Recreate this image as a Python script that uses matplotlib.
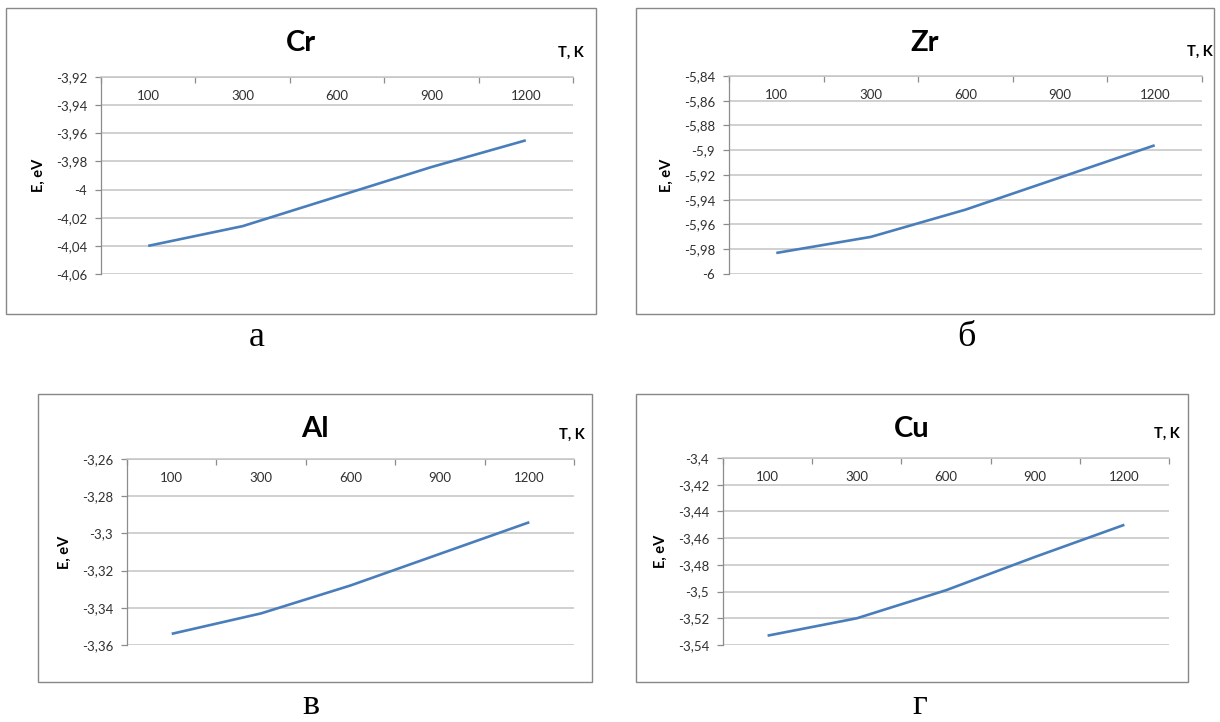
import matplotlib
matplotlib.use('Agg')
import matplotlib.pyplot as plt
from matplotlib.patches import Rectangle

# temperature categories, K
temps = ['100', '300', '600', '900', '1200']

# energies, eV
energy_cr = [-4.040, -4.026, -4.005, -3.984, -3.965]
energy_zr = [-5.983, -5.970, -5.948, -5.922, -5.896]
energy_al = [-3.354, -3.343, -3.328, -3.311, -3.294]
energy_cu = [-3.533, -3.520, -3.499, -3.474, -3.450]

yticks_cr = [-4.06, -4.04, -4.02, -4.00, -3.98, -3.96, -3.94, -3.92]
yticks_zr = [-6.00, -5.98, -5.96, -5.94, -5.92, -5.90, -5.88, -5.86, -5.84]
yticks_al = [-3.36, -3.34, -3.32, -3.30, -3.28, -3.26]
yticks_cu = [-3.54, -3.52, -3.50, -3.48, -3.46, -3.44, -3.42, -3.40]

titles = ['Cr', 'Zr', 'Al', 'Cu']
captions = ['а', 'б', 'в', 'г']

W, H = 1220, 722
LINE = '#4a7ebb'
GRID = '#c4c4c4'
AXIS = '#8c8c8c'
TXT = '#303030'

# (frame box, plot area, caption position), all in pixels from top-left
layout = [
    ((6, 8, 596, 314), (101, 77, 573, 274), (257, 338)),
    ((636, 8, 1214, 314), (729, 76, 1202, 274), (966, 338)),
    ((38, 394, 592, 682), (127, 459, 574, 645), (311, 706)),
    ((636, 394, 1188, 682), (723, 458, 1169, 645), (920, 706)),
]

series = [energy_cr, energy_zr, energy_al, energy_cu]
yticks = [yticks_cr, yticks_zr, yticks_al, yticks_cu]

plt.rcParams['font.family'] = ['Lato', 'DejaVu Sans']

fig = plt.figure(figsize=(W / 100, H / 100), dpi=100)
fig.patch.set_facecolor('white')


def fx(px):
    return px / W


def fy(py):
    return 1 - py / H


def fmt(v):
    return ('%g' % round(v, 2)).replace('.', ',')


for (box, area, cap), title, vals, ticks, letter in zip(layout, titles, series, yticks, captions):
    bx0, by0, bx1, by1 = box
    fig.patches.append(Rectangle((fx(bx0), fy(by1)), fx(bx1 - bx0), (by1 - by0) / H,
                                 transform=fig.transFigure, fill=False,
                                 edgecolor='#888888', linewidth=1.0, zorder=0))

    x0, y0, x1, y1 = area
    ax = fig.add_axes([fx(x0), fy(y1), fx(x1 - x0), (y1 - y0) / H])
    ax.set_facecolor('none')

    xs = list(range(len(temps)))
    ax.plot(xs, vals, color=LINE, linewidth=1.9, solid_capstyle='butt', zorder=3)

    ax.set_xlim(-0.5, len(temps) - 0.5)
    ax.set_ylim(ticks[0], ticks[-1])

    # category axis sits on top, labels hang below it
    ax.xaxis.tick_top()
    ax.set_xticks([i - 0.5 for i in range(len(temps) + 1)])
    ax.set_xticklabels([])
    ax.set_xticks(xs, minor=True)
    ax.set_xticklabels(temps, minor=True)
    ax.tick_params(axis='x', which='major', direction='in', length=4, width=0.9,
                   color=AXIS, top=True, bottom=False)
    ax.tick_params(axis='x', which='minor', length=0, top=True, bottom=False,
                   labeltop=True, labelbottom=False, pad=-18, labelsize=9.5, labelcolor=TXT)

    ax.set_yticks(ticks)
    ax.set_yticklabels([fmt(t) for t in ticks])
    ax.tick_params(axis='y', direction='out', length=4, width=0.9, color=AXIS,
                   pad=6, labelsize=9.5, labelcolor=TXT)

    ax.yaxis.grid(True, color=GRID, linewidth=1.1)
    ax.set_axisbelow(True)
    for side in ('right', 'bottom'):
        ax.spines[side].set_visible(False)
    ax.spines['left'].set_color(AXIS)
    ax.spines['left'].set_linewidth(0.9)
    ax.spines['top'].set_color(GRID)
    ax.spines['top'].set_linewidth(1.1)

    fig.text(fx((bx0 + bx1) / 2), fy(by0 + 35), title, ha='center', va='center',
             fontsize=21, fontweight='bold', color='black')
    fig.text(fx(x1 - 2), fy(y0 - 24), 'T, K', ha='center', va='center',
             fontsize=10.5, fontweight='bold', color='black')
    fig.text(fx(x0 - 62), fy((y0 + y1) / 2), 'E, eV', ha='center', va='center',
             rotation=90, fontsize=10.5, fontweight='bold', color='black')
    fig.text(fx(cap[0]), fy(cap[1]), letter, ha='center', va='center',
             fontsize=26, family='Liberation Serif', color='black')

fig.savefig('out.png', dpi=100)
